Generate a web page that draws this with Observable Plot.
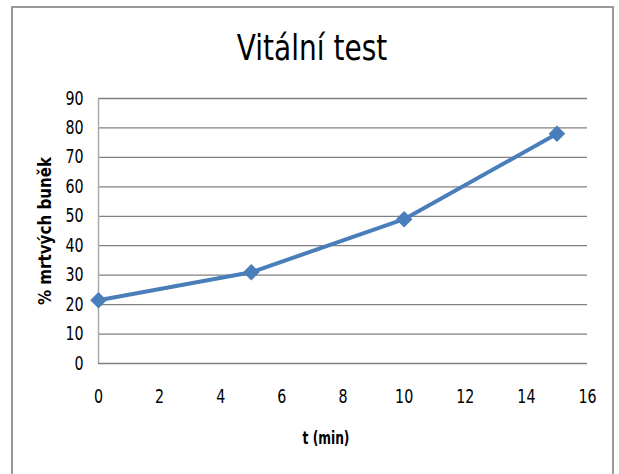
<!DOCTYPE html>
<html>
<head>
<meta charset="utf-8">
<script src="https://cdn.jsdelivr.net/npm/d3@7"></script>
<script src="https://cdn.jsdelivr.net/npm/@observablehq/plot@0.6"></script>
<style>
  html, body { margin: 0; padding: 0; background: #fff; }
  #wrap { position: relative; width: 619px; height: 474px; overflow: hidden; }
  #frame { position: absolute; left: 11px; top: 6px; width: 603px; height: 480px; border: 2px solid #999; border-bottom: none; box-sizing: border-box; }
  #title { position: absolute; left: 0; width: 624px; top: 28px; text-align: center;
    font-family: "DejaVu Sans", sans-serif; font-size: 35px; color: #000; }
  #title span { display: inline-block; transform: scaleX(0.8); }
  #chart { position: absolute; left: 0; top: 0; }
</style>
</head>
<body>
<div id="wrap">
  <div id="frame"></div>
  <div id="chart"></div>
  <div id="title"><span>Vitální test</span></div>
</div>
<script>
const title = "Vitální test";
const xLabel = "t (min)";
const yLabel = "% mrtvých buněk";
const times = [0, 5, 10, 15];
const deadPct = [21.5, 31, 49, 78];
const xTicks = [0, 2, 4, 6, 8, 10, 12, 14, 16];
const yTicks = [0, 10, 20, 30, 40, 50, 60, 70, 80, 90];

const data = times.map((t, i) => ({t, v: deadPct[i]}));
const font = '"DejaVu Sans", sans-serif';

const chart = Plot.plot({
  width: 619,
  height: 474,
  marginLeft: 98,
  marginRight: 32,
  marginTop: 98,
  marginBottom: 111,
  style: {fontFamily: font, fontSize: "19px", color: "#000", background: "transparent"},
  x: {domain: [0, 16], ticks: xTicks, tickSize: 0, tickPadding: 24, label: null},
  y: {domain: [0, 90], ticks: yTicks, tickSize: 0, tickPadding: 16, label: null},
  marks: [
    Plot.gridY(yTicks, {stroke: "#808080", strokeOpacity: 1, strokeWidth: 1.3}),
    Plot.ruleX([0], {stroke: "#aaa", strokeWidth: 1.5}),
    Plot.axisX({ticks: xTicks, tickSize: 0, tickPadding: 26, label: null, fontSize: 19}),
    Plot.axisY({ticks: yTicks, tickSize: 0, tickPadding: 15, label: null, fontSize: 19}),
    Plot.line(data, {x: "t", y: "v", stroke: "#4a7ebb", strokeWidth: 4, curve: "linear"}),
    Plot.dot(data, {x: "t", y: "v", symbol: "diamond2", r: 6.5, fill: "#4a7ebb", stroke: "#4a7ebb"}),
    Plot.text([xLabel], {frameAnchor: "bottom", textAnchor: "middle", dy: 80, dx: -17, fontSize: 17, fontWeight: "bold", fontFamily: font, className: "xlab"}),
    Plot.text([yLabel], {frameAnchor: "left", textAnchor: "middle", dx: -53, rotate: -90, fontSize: 18, fontWeight: "bold", fontFamily: font, className: "ylab"})
  ]
});
document.getElementById("chart").appendChild(chart);

// Narrow the labels to mimic the condensed face of the original.
function narrow(sel, k) {
  sel.each(function () {
    const t = this.getAttribute("transform") || "";
    this.setAttribute("transform", (t + ` scale(${k},1)`).trim());
  });
}
const svg = d3.select(chart);
narrow(svg.selectAll('g[aria-label="y-axis tick label"] text'), 0.75);
narrow(svg.selectAll('g[aria-label="x-axis tick label"] text'), 0.75);
narrow(svg.selectAll('.xlab text'), 0.72);
narrow(svg.selectAll('.ylab text'), 0.84);
</script>
</body>
</html>
